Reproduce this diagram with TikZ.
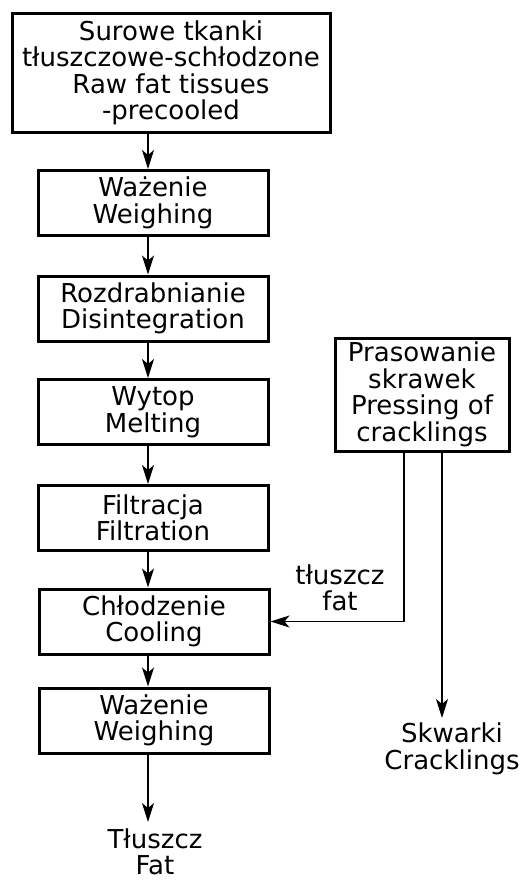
\documentclass[tikz,border=0pt]{standalone}
\usepackage{fontspec}
\setmainfont{DejaVu Sans}
\usetikzlibrary{arrows.meta}
\begin{document}
\begin{tikzpicture}[x=1pt,y=-1pt,
  every node/.style={font=\fontsize{26}{26.5}\selectfont, align=center, inner sep=0pt},
  procbox/.style={draw, line width=3pt, minimum width=230pt, minimum height=65pt},
  flow/.style={line width=1.3pt, -{Stealth[length=19pt,width=12pt,inset=5pt]}},
  plain/.style={line width=1.3pt}]
\useasboundingbox (0,0) rectangle (526,880);
\node[draw, line width=3pt, minimum width=318pt, minimum height=118pt] (raw) at (171,73) {Surowe tkanki\\tłuszczowe-schłodzone\\Raw fat tissues\\-precooled};
\node[procbox] (w1) at (153,203) {Ważenie\\Weighing};
\node[procbox] (dis) at (153,308.5) {Rozdrabnianie\\Disintegration};
\node[procbox] (mel) at (153,412) {Wytop\\Melting};
\node[procbox] (fil) at (153,518) {Filtracja\\Filtration};
\node[procbox] (coo) at (154,621.5) {Chłodzenie\\Cooling};
\node[procbox] (w2) at (154,720.5) {Ważenie\\Weighing};
\node (fat) at (155,852) {Tłuszcz\\Fat};
\node[draw, line width=3pt, minimum width=174pt, minimum height=113pt] (pre) at (422,394.5) {Prasowanie\\skrawek\\Pressing of\\cracklings};
\node (skw) at (452,749) {Skwarki\\Cracklings};
\node (lab) at (340,588) {tłuszcz\\fat};
\coordinate (ax) at (148,0);
\coordinate (fx) at (404,0);
\coordinate (cx) at (442,0);
\coordinate (turn) at (404,621.5);
\coordinate (cend) at (442,718);
\coordinate (fend) at (148,822);
\draw[flow] (raw.south -| ax) -- (w1.north -| ax);
\draw[flow] (w1.south -| ax) -- (dis.north -| ax);
\draw[flow] (dis.south -| ax) -- (mel.north -| ax);
\draw[flow] (mel.south -| ax) -- (fil.north -| ax);
\draw[flow] (fil.south -| ax) -- (coo.north -| ax);
\draw[flow] (coo.south -| ax) -- (w2.north -| ax);
\draw[flow] (w2.south -| ax) -- (fend);
\draw[flow] (pre.south -| fx) -- (turn) -- (coo.east);
\draw[flow] (pre.south -| cx) -- (cend);
\end{tikzpicture}
\end{document}
